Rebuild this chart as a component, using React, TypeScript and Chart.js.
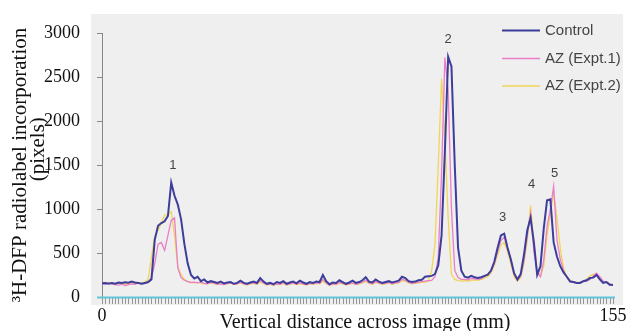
import React, { useEffect, useRef } from 'react';
import { Chart, registerables } from 'chart.js';

Chart.register(...registerables);

// Vertical distance across image (mm)
const positionsMm = [
  0, 1, 2, 3, 4, 5, 6, 7, 8, 9, 10, 11, 12, 13, 14, 15, 16, 17, 18, 19,
  20, 21, 22, 23, 24, 25, 26, 27, 28, 29, 30, 31, 32, 33, 34, 35, 36, 37, 38, 39,
  40, 41, 42, 43, 44, 45, 46, 47, 48, 49, 50, 51, 52, 53, 54, 55, 56, 57, 58, 59,
  60, 61, 62, 63, 64, 65, 66, 67, 68, 69, 70, 71, 72, 73, 74, 75, 76, 77, 78, 79,
  80, 81, 82, 83, 84, 85, 86, 87, 88, 89, 90, 91, 92, 93, 94, 95, 96, 97, 98, 99,
  100, 101, 102, 103, 104, 105, 106, 107, 108, 109, 110, 111, 112, 113, 114, 115, 116, 117, 118, 119,
  120, 121, 122, 123, 124, 125, 126, 127, 128, 129, 130, 131, 132, 133, 134, 135, 136, 137, 138, 139,
  140, 141, 142, 143, 144, 145, 146, 147, 148, 149, 150, 151, 152, 153, 154, 155,
];

const controlValues = [
  155, 160, 150, 158, 152, 165, 160, 168, 162, 175,
  165, 158, 150, 160, 170, 200, 650, 810, 840, 860,
  920, 1300, 1150, 1050, 880, 600, 380, 250, 210, 230,
  180, 200, 165, 180, 170, 160, 175, 155, 165, 170,
  150, 160, 185, 160, 150, 165, 175, 160, 215, 175,
  150, 160, 145, 170, 160, 180, 150, 165, 175, 155,
  185, 165, 150, 170, 160, 175, 170, 250, 180, 145,
  165, 160, 190, 170, 150, 165, 185, 160, 170, 190,
  225, 175, 165, 200, 175, 160, 170, 180, 165, 175,
  185, 230, 215, 180, 170, 175, 190, 195, 230, 235,
  240, 260, 360, 700, 1650, 2730, 2620, 1500, 560, 300,
  230, 220, 240, 225, 215, 225, 240, 255, 300, 400,
  560, 700, 720, 560, 430, 270, 200, 260, 480, 760,
  900, 620, 250, 350, 780, 1100, 1110, 620, 460, 350,
  280, 230, 175, 170, 160, 160, 180, 190, 215, 220,
  250, 200, 160, 170, 140, 135,
];

const azExpt1Values = [
  150, 145, 160, 150, 140, 135, 145, 130, 140, 150,
  145, 160, 150, 155, 165, 220, 380, 600, 620, 530,
  700, 870, 900, 330, 220, 190, 175, 165, 170, 160,
  170, 155, 150, 165, 160, 145, 150, 140, 155, 160,
  145, 150, 165, 150, 140, 155, 160, 150, 190, 160,
  140, 150, 135, 150, 145, 165, 140, 150, 160, 145,
  160, 150, 140, 155, 150, 160, 155, 200, 160, 135,
  150, 145, 165, 155, 140, 150, 160, 145, 155, 170,
  190, 160, 150, 175, 160, 150, 155, 165, 150, 160,
  165, 200, 190, 165, 155, 160, 170, 175, 180, 185,
  190, 230, 450, 1400, 2720, 2350, 1000, 300, 220, 200,
  200, 195, 210, 205, 200, 210, 230, 250, 290, 380,
  520, 640, 680, 560, 420, 260, 190, 240, 420, 700,
  950, 520, 280, 230, 420, 800, 1000, 1260, 650, 430,
  300, 220, 180, 165, 160, 165, 175, 180, 200, 240,
  270, 230, 180, 170, 150, 140,
];

const azExpt2Values = [
  160, 155, 165, 160, 150, 155, 150, 145, 155, 160,
  150, 165, 160, 170, 200, 450, 690, 760, 840, 930,
  940, 970, 700, 340, 250, 200, 175, 165, 160, 165,
  160, 150, 155, 160, 150, 140, 155, 145, 150, 160,
  140, 150, 160, 145, 135, 150, 155, 145, 170, 155,
  135, 145, 130, 145, 140, 155, 135, 145, 155, 140,
  150, 145, 135, 150, 145, 155, 150, 180, 155, 130,
  145, 140, 155, 150, 135, 145, 155, 140, 150, 160,
  175, 155, 145, 165, 155, 145, 150, 160, 145, 155,
  160, 185, 180, 160, 150, 155, 160, 165, 170, 180,
  300, 600, 1500, 2480, 1800, 900, 260, 200, 185, 180,
  185, 180, 190, 195, 190, 200, 215, 230, 270, 360,
  480, 590, 620, 520, 380, 230, 180, 220, 380, 650,
  1040, 600, 300, 240, 350, 700, 950, 1180, 900, 560,
  320, 230, 190, 170, 165, 170, 180, 200, 240, 260,
  260, 220, 175, 165, 150, 145,
];

const seriesNames = ['Control', 'AZ (Expt.1)', 'AZ (Expt.2)'];
const seriesColors = ['#3d3d9c', '#ea7ec8', '#f0d658'];
const seriesWidths = [2, 1.3, 1.3];

const peakLabels = ['1', '2', '3', '4', '5'];
const peakLabelX = [21.5, 105, 121.5, 130.3, 137.3];
const peakLabelY = [1500, 2930, 900, 1280, 1400];

const xTickLabels = [0, 155];
const yTickValues = [0, 500, 1000, 1500, 2000, 2500, 3000];

const SERIF = '"Liberation Serif", "Times New Roman", serif';
const SANS = '"Liberation Sans", Arial, sans-serif';

const panelPlugin = {
  id: 'panelBg',
  beforeDraw(chart: any) {
    const { ctx, chartArea: a } = chart;
    ctx.save();
    ctx.fillStyle = '#efefef';
    ctx.fillRect(a.left - 11, a.top - 19, a.right - a.left + 21, a.bottom - a.top + 27);
    ctx.restore();
  },
};

const tickMarksPlugin = {
  id: 'tickMarks',
  afterDraw(chart: any) {
    const { ctx, chartArea: a } = chart;
    const xs = chart.scales.x;
    const ys = chart.scales.y;
    const base = Math.round(a.bottom);
    ctx.save();
    ctx.lineWidth = 1;
    ctx.strokeStyle = '#969696';
    ctx.beginPath();
    positionsMm.forEach((v) => {
      const px = Math.round(xs.getPixelForValue(v)) + 0.5;
      ctx.moveTo(px, base + 1);
      ctx.lineTo(px, base + 7);
    });
    ctx.stroke();
    ctx.strokeStyle = '#888';
    ctx.beginPath();
    yTickValues.forEach((v) => {
      const py = Math.round(ys.getPixelForValue(v)) + 0.5;
      ctx.moveTo(a.left - 5, py);
      ctx.lineTo(a.left, py);
    });
    ctx.stroke();
    // x axis line
    ctx.strokeStyle = '#62c4d8';
    ctx.lineWidth = 2;
    ctx.beginPath();
    ctx.moveTo(a.left - 5, base + 0.5);
    ctx.lineTo(a.right + 2, base + 0.5);
    ctx.stroke();
    ctx.restore();
  },
};

const annotationPlugin = {
  id: 'annotations',
  afterDatasetsDraw(chart: any) {
    const { ctx } = chart;
    const xs = chart.scales.x;
    const ys = chart.scales.y;
    ctx.save();
    ctx.fillStyle = '#444';
    ctx.font = `13px ${SANS}`;
    ctx.textAlign = 'center';
    ctx.textBaseline = 'middle';
    peakLabels.forEach((t, i) => {
      ctx.fillText(t, xs.getPixelForValue(peakLabelX[i]), ys.getPixelForValue(peakLabelY[i]));
    });
    // legend
    const rows = [30.5, 58.5, 86];
    ctx.font = `15px ${SANS}`;
    ctx.textAlign = 'left';
    seriesNames.forEach((name, i) => {
      ctx.strokeStyle = seriesColors[i];
      ctx.lineWidth = seriesWidths[i];
      ctx.beginPath();
      ctx.moveTo(502, rows[i]);
      ctx.lineTo(540, rows[i]);
      ctx.stroke();
      ctx.fillStyle = '#444';
      ctx.fillText(name, 545, rows[i]);
    });
    ctx.restore();
  },
};

export default function App() {
  const ref = useRef<HTMLCanvasElement>(null);
  useEffect(() => {
    const series = [controlValues, azExpt1Values, azExpt2Values];
    const chart = new Chart(ref.current as HTMLCanvasElement, {
      type: 'line',
      data: {
        datasets: series.map((vals, i) => ({
          label: seriesNames[i],
          data: positionsMm.map((x, j) => ({ x, y: vals[j] })),
          borderColor: seriesColors[i],
          borderWidth: seriesWidths[i],
          pointRadius: 0,
          tension: 0,
          fill: false,
        })),
      },
      options: {
        animation: false,
        responsive: true,
        maintainAspectRatio: false,
        layout: { padding: { top: 33, right: 18, left: 0, bottom: 0 } },
        plugins: { legend: { display: false }, tooltip: { enabled: false } },
        scales: {
          x: {
            type: 'linear',
            min: 0,
            max: 155,
            afterFit(scale: any) {
              scale.height = 34;
            },
            afterBuildTicks(scale: any) {
              scale.ticks = xTickLabels.map((v) => ({ value: v }));
            },
            border: { display: false },
            grid: { display: false, drawOnChartArea: false, tickLength: 6 },
            ticks: {
              autoSkip: false,
              maxRotation: 0,
              minRotation: 0,
              padding: 2,
              color: '#111',
              font: { family: SERIF, size: 18 },
              callback: (v: any) => String(v),
            },
            title: {
              display: true,
              text: '\u00a0\u00a0\u00a0Vertical distance across image (mm)',
              color: '#111',
              font: { family: SERIF, size: 20, lineHeight: 0.8 },
              padding: 0,
            },
          },
          y: {
            min: 0,
            max: 3000,
            afterFit(scale: any) {
              scale.width = 102;
            },
            afterBuildTicks(scale: any) {
              scale.ticks = yTickValues.map((v) => ({ value: v }));
            },
            border: { color: '#888' },
            grid: { display: false, drawOnChartArea: false, tickLength: 5 },
            ticks: {
              padding: 17,
              color: '#111',
              font: { family: SERIF, size: 18 },
              callback: (v: any) => String(v),
            },
            title: {
              display: true,
              text: ['\u00b3H-DFP radiolabel incorporation', '\u00a0\u00a0\u00a0\u00a0\u00a0\u00a0(pixels)'],
              color: '#111',
              font: { family: SERIF, size: 21, lineHeight: 0.857 },
              padding: { top: 11, bottom: 0 },
            },
          },
        },
      },
      plugins: [panelPlugin, tickMarksPlugin, annotationPlugin],
    } as any);
    return () => chart.destroy();
  }, []);
  return (
    <div style={{ position: 'fixed', left: 0, top: 0, width: 631, height: 331, background: '#fff' }}>
      <canvas ref={ref} />
    </div>
  );
}
